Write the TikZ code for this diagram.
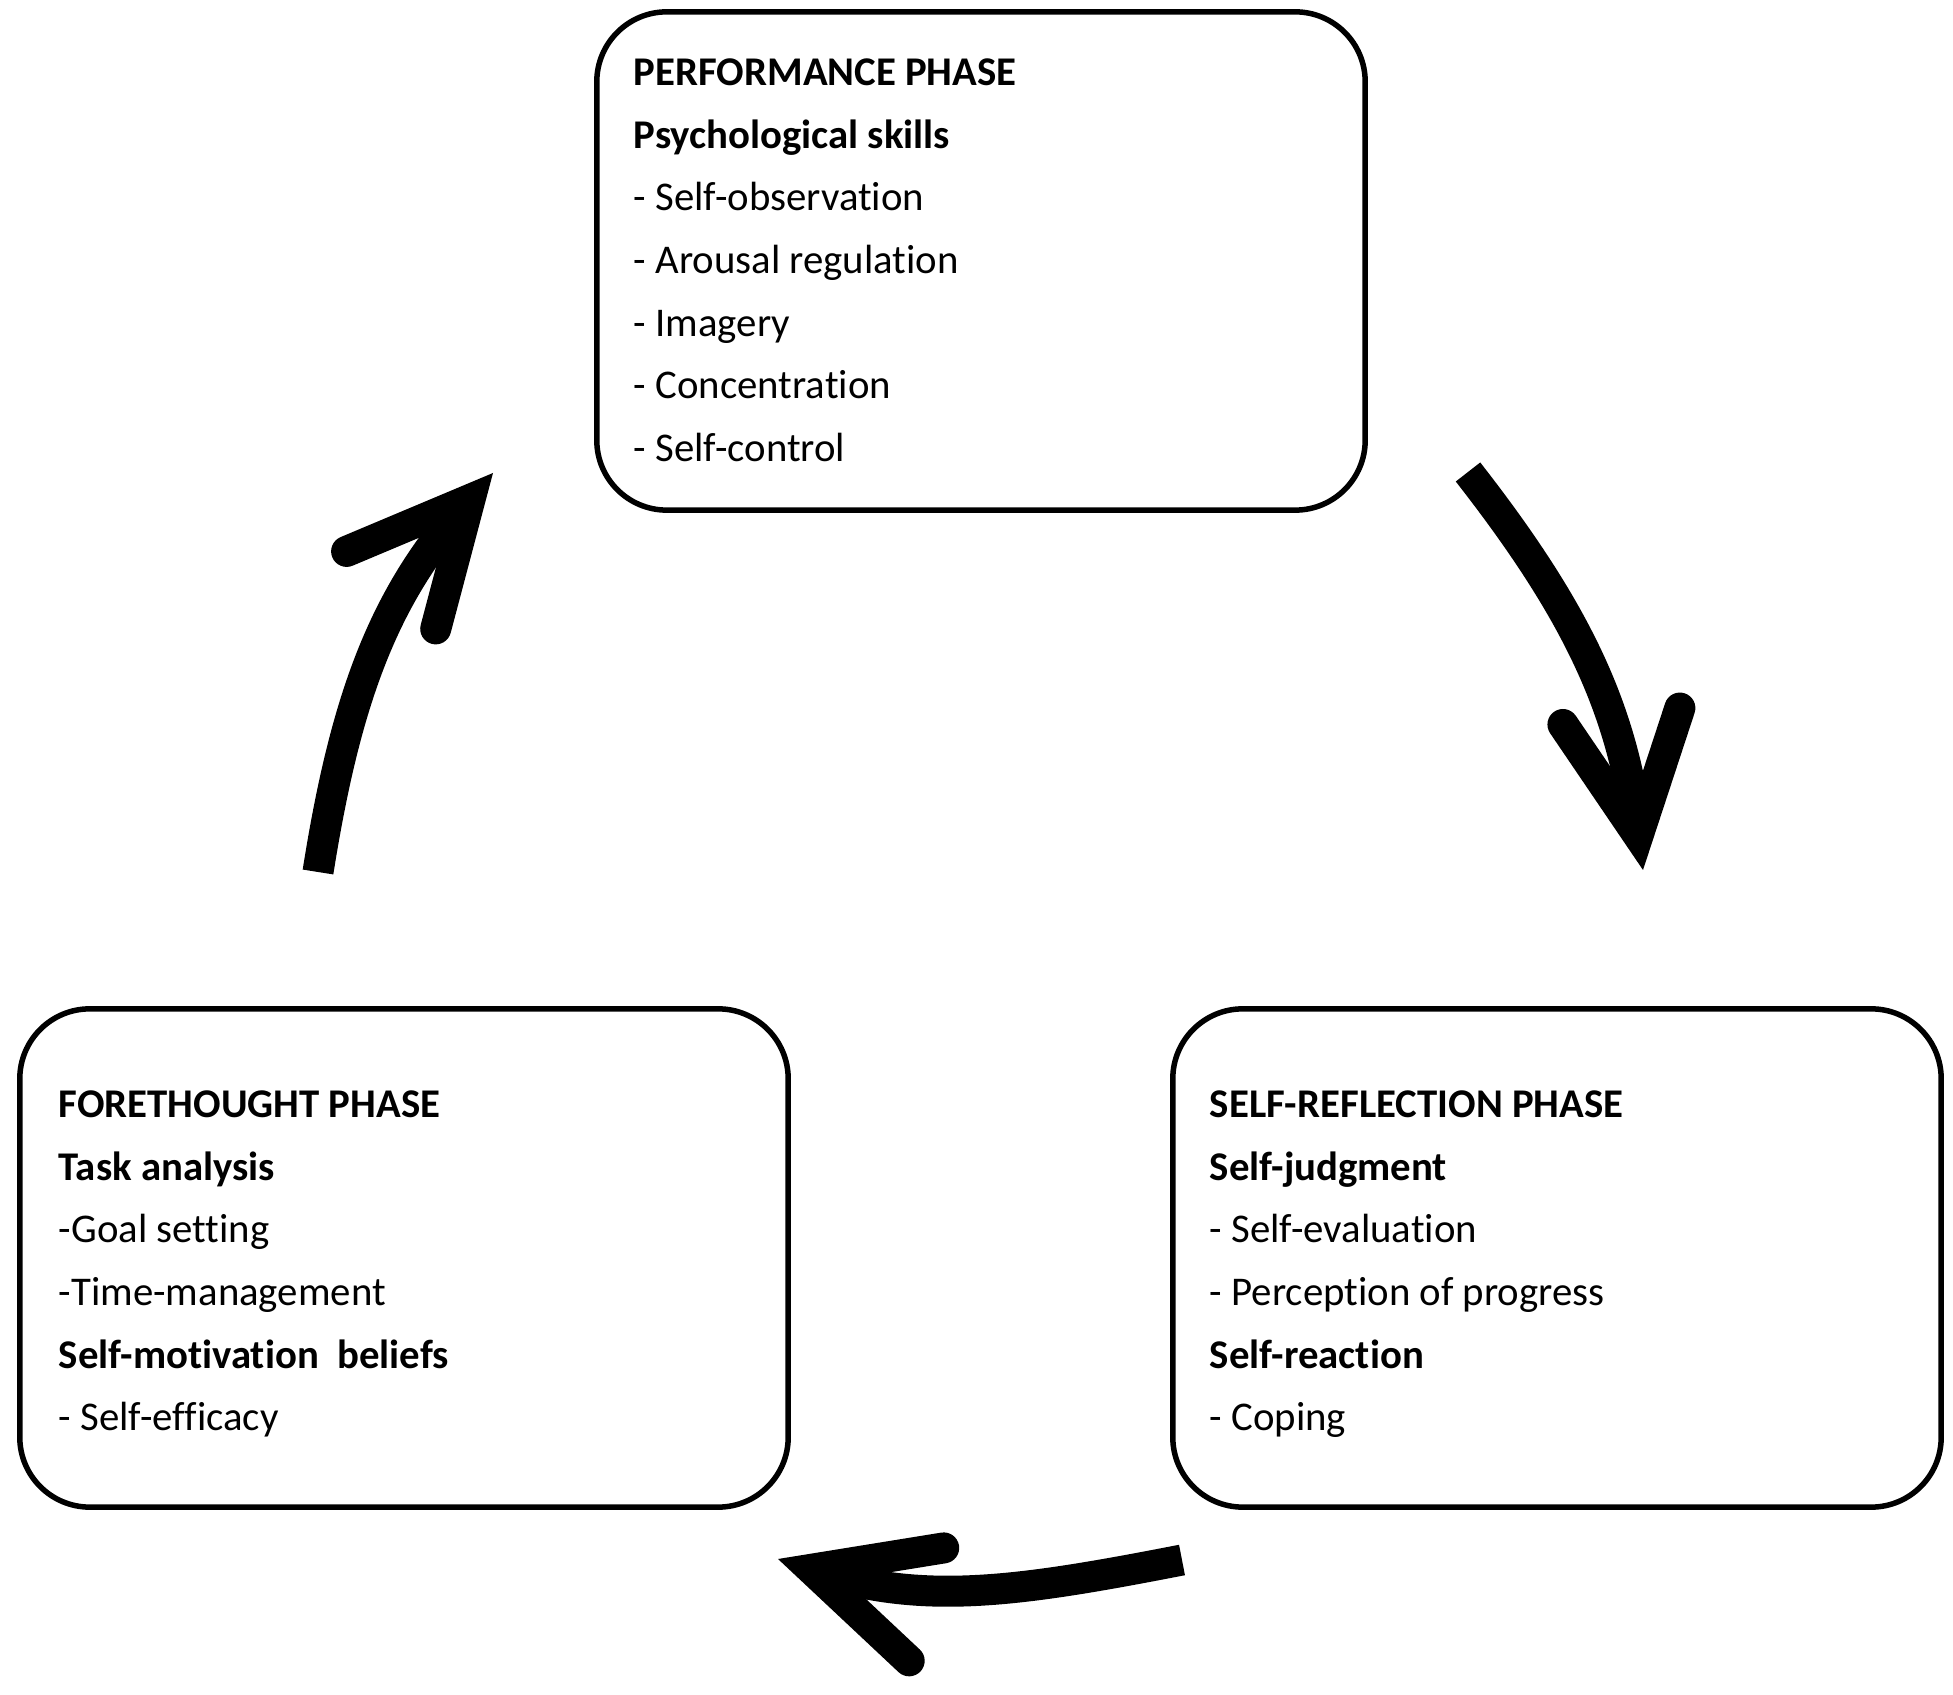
\documentclass[tikz,border=0pt]{standalone}
\usepackage{fontspec}
\setmainfont{Carlito}[Ligatures=NoCommon]
\usetikzlibrary{arrows.meta,positioning}

\tikzset{
  phasebox/.style={draw, line width=0.055cm, rounded corners=0.7cm, minimum width=7.68cm, minimum height=4.98cm, inner sep=0pt, outer sep=0pt},
  phasetext/.style={align=left, inner sep=0pt, outer sep=0pt, font=\fontsize{11.6}{17.8}\selectfont},
  cyclearrow/.style={line width=0.31cm, -{Straight Barb[length=1.2cm,width=1.18cm,line cap=round,line join=miter]}},
}

\begin{document}
\begin{tikzpicture}[x=0.01cm, y=0.01cm]
	\useasboundingbox (0,0) rectangle (1953,-1695);
	% phase boxes
	\node[phasebox] (perf) at (981,-261) {};
	\node[phasebox] (fore) at (404,-1258) {};
	\node[phasebox] (refl) at (1557,-1258) {};
	\node[phasetext, below right=0.47cm and 0.37cm of perf.north west] (perftext) {\textbf{PERFORMANCE PHASE}\\ \textbf{Psychological skills}\\ - Self-observation\\ - Arousal regulation\\ - Imagery\\ - Concentration\\ - Self-control};
	\node[phasetext, below right=0.82cm and 0.39cm of fore.north west] (foretext) {\textbf{FORETHOUGHT PHASE}\\ \textbf{Task analysis}\\ -Goal setting\\ -Time-management\\ \textbf{Self-motivation\ \ beliefs}\\ - Self-efficacy};
	\node[phasetext, below right=0.82cm and 0.37cm of refl.north west] (refltext) {\textbf{SELF-REFLECTION PHASE}\\ \textbf{Self-judgment}\\ - Self-evaluation\\ - Perception of progress\\ \textbf{Self-reaction}\\ - Coping};
	% cycle arrows
	\coordinate (upstart) at (318,-872);
	\coordinate (upend) at (493,-473);
	\coordinate (downstart) at (1468,-472);
	\coordinate (downend) at (1643,-870);
	\coordinate (backstart) at (1182,-1560);
	\coordinate (backend) at (778,-1559);
	\draw[cyclearrow] (upstart) to[out=81,in=229] (upend);
	\draw[cyclearrow] (downstart) to[out=-52,in=98] (downend);
	\draw[cyclearrow] (backstart) to[out=191,in=-17] (backend);
\end{tikzpicture}
\end{document}
